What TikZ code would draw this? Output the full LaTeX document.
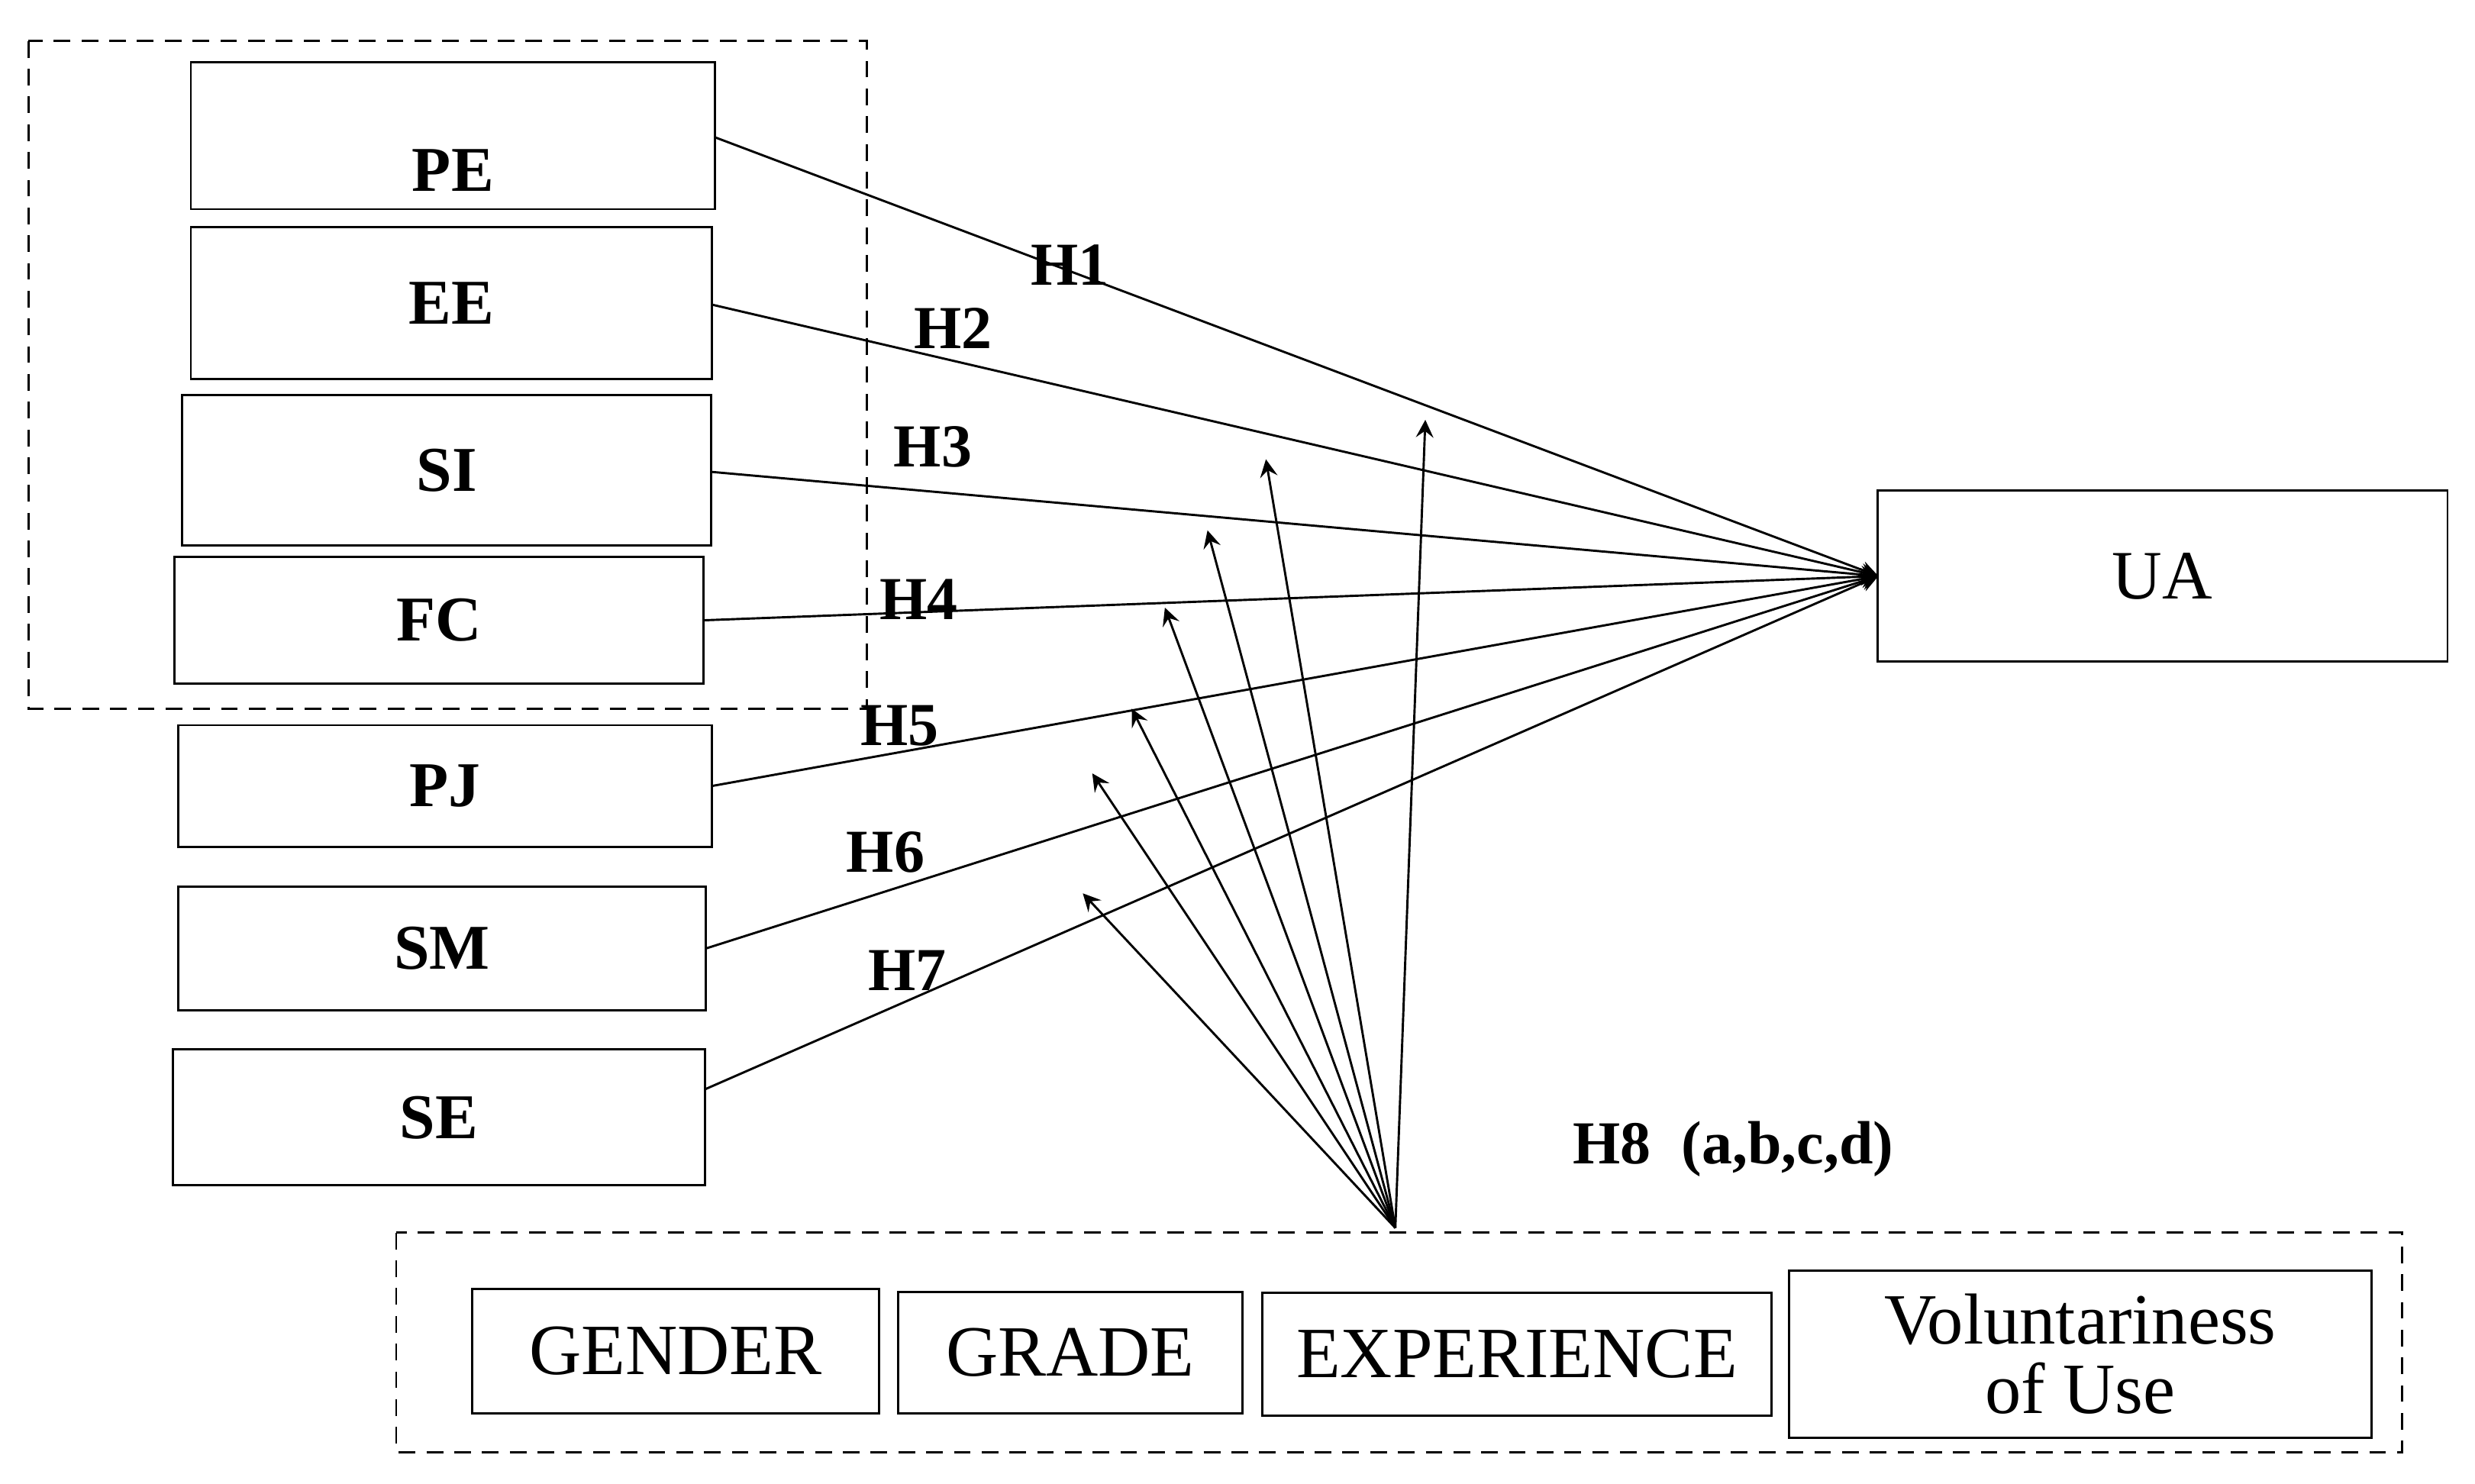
\documentclass[tikz,border=0pt]{standalone}
\usepackage{fontspec}
\setmainfont{Liberation Serif}
\tikzset{
  cons/.style={draw=black,rectangle,inner sep=0pt,font=\fontsize{11.5}{13}\selectfont\bfseries},
  modr/.style={draw=black,rectangle,inner sep=0pt,font=\fontsize{13}{12.5}\selectfont,align=center},
  hyp/.style={font=\fontsize{11}{13}\selectfont\bfseries},
  arr/.style={->,>=stealth,thin}
}
\begin{document}
\begin{tikzpicture}[x=0.01cm,y=-0.01cm]
\useasboundingbox (0,0) rectangle (1568,940);
% Dashed frames
\draw[densely dashed,thin] (18,26) rectangle (549,449);
\draw[densely dashed,thin] (251,781) rectangle (1522,920);
% Constructs
\node(pe)[cons,minimum width=3.32cm,minimum height=0.93cm] at (287,86) {};
\node at (287,108) [font=\fontsize{11.5}{13}\selectfont\bfseries] {PE};
\node(ee)[cons,minimum width=3.30cm,minimum height=0.96cm] at (286,192) {EE};
\node(si)[cons,minimum width=3.35cm,minimum height=0.95cm] at (283,298) {SI};
\node(fc)[cons,minimum width=3.35cm,minimum height=0.80cm] at (278,393) {FC};
\node(pj)[cons,minimum width=3.38cm,minimum height=0.77cm] at (282,498) {PJ};
\node(sm)[cons,minimum width=3.34cm,minimum height=0.78cm] at (280,601) {SM};
\node(se)[cons,minimum width=3.37cm,minimum height=0.86cm] at (278,708) {SE};
\node(ua)[cons,font=\fontsize{12.5}{13}\selectfont,minimum width=3.61cm,minimum height=1.08cm] at (1370,365) {UA};
% Moderators
\node(gen)[modr,minimum width=2.58cm,minimum height=0.79cm] at (428,856) {GENDER};
\node(gra)[modr,minimum width=2.18cm,minimum height=0.77cm] at (678,857) {GRADE};
\node(exp)[modr,minimum width=3.22cm,minimum height=0.78cm] at (961,858) {EXPERIENCE};
\node(vol)[modr,minimum width=3.69cm,minimum height=1.06cm] at (1318,858) {Voluntariness\\of Use};
% Hypotheses
\coordinate (tip) at (1190,365);
\draw[arr] (453,87) -- (tip);
\draw[arr] (451,193) -- (tip);
\draw[arr] (451,299) -- (tip);
\draw[arr] (446,393) -- (tip);
\draw[arr] (451,498) -- (tip);
\draw[arr] (447,601) -- (tip);
\draw[arr] (447,690) -- (tip);
\node[hyp] at (678,168) {H1};
\node[hyp] at (604,208) {H2};
\node[hyp] at (591,283) {H3};
\node[hyp] at (582,380) {H4};
\node[hyp] at (570,460) {H5};
\node[hyp] at (561,540) {H6};
\node[hyp] at (575,615) {H7};
\node[hyp] at (1098,728) {H8\ \ (a,b,c,d)};
% Moderating arrows
\coordinate (mod) at (884,778);
\foreach \x/\y in {903/266,802/291,765/336,738/385,717/449,692/490,686/566}
  \draw[arr] (mod) -- (\x,\y);
\end{tikzpicture}
\end{document}
